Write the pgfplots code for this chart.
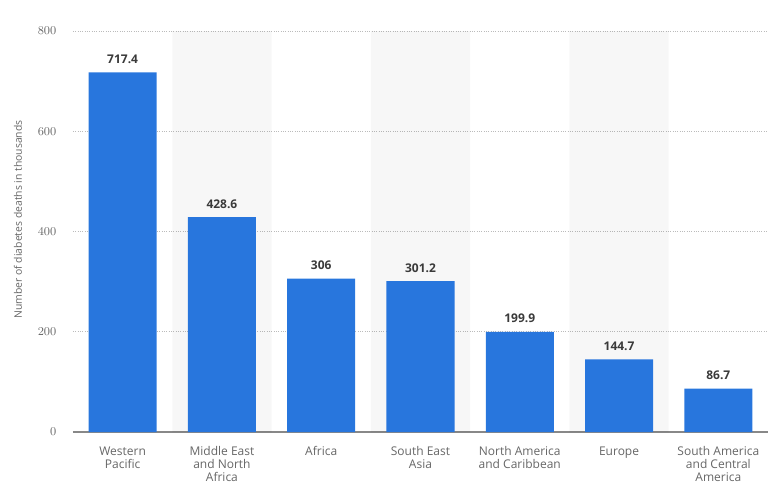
\documentclass[border=0pt]{standalone}
\usepackage{fontspec}
\setmainfont{Open Sans}
\usepackage{pgfplots}
\pgfplotsset{compat=1.18}
\definecolor{barblue}{HTML}{2876DD}
\definecolor{tickgray}{HTML}{666666}
\definecolor{labeldark}{HTML}{3A3A3A}
\definecolor{gridgray}{HTML}{BBBBBB}
\definecolor{basegray}{HTML}{888888}
\begin{document}
\begin{tikzpicture}
\useasboundingbox (-54.75pt,-51.75pt) rectangle (528pt,324pt);
\begin{axis}[
  at={(0pt,0pt)}, anchor=south west,
  scale only axis, width=521.25pt, height=300.75pt,
  xmin=-0.5, xmax=6.5, ymin=0, ymax=800,
  axis line style={draw=none},
  major tick length=0pt,
  xtick={0,1,2,3,4,5,6},
  xticklabels={{Western\\Pacific},{Middle East\\and North\\Africa},{Africa},{South East\\Asia},{North America\\and Caribbean},{Europe},{South America\\and Central\\America}},
  xticklabel style={align=center, font=\fontsize{9}{9.75}\selectfont, text=tickgray, yshift=-7.5pt},
  ytick={200,400,600,800},
  extra y ticks={0},
  extra y tick style={grid=major, major grid style={solid, draw=basegray, line width=1.5pt}},
  yticklabel style={font=\fontsize{9}{10}\selectfont, text=tickgray, xshift=-9pt},
  ymajorgrids,
  major grid style={draw=gridgray, line width=0.6pt, dash pattern=on 0.75pt off 1pt},
  ylabel={Number of diabetes deaths in thousands},
  every axis y label/.style={at={(axis description cs:-0.0791,0.53)}, rotate=90, anchor=center, font=\fontsize{7.8}{9}\selectfont, text=tickgray},
  clip=false,
]
\addplot[ybar, bar shift=0pt, bar width=1, fill=black, fill opacity=0.03, draw=none] coordinates {(1,800) (3,800) (5,800)};
\addplot[ybar, bar shift=0pt, bar width=0.685, fill=barblue, draw=none,
  nodes near coords,
  nodes near coords style={font=\bfseries\fontsize{9}{10}\selectfont, text=labeldark, yshift=3pt},
  point meta=explicit symbolic]
  coordinates {(0,717.4)[717.4] (1,428.6)[428.6] (2,306)[306] (3,301.2)[301.2] (4,199.9)[199.9] (5,144.7)[144.7] (6,86.7)[86.7]};
\end{axis}
\end{tikzpicture}
\end{document}
